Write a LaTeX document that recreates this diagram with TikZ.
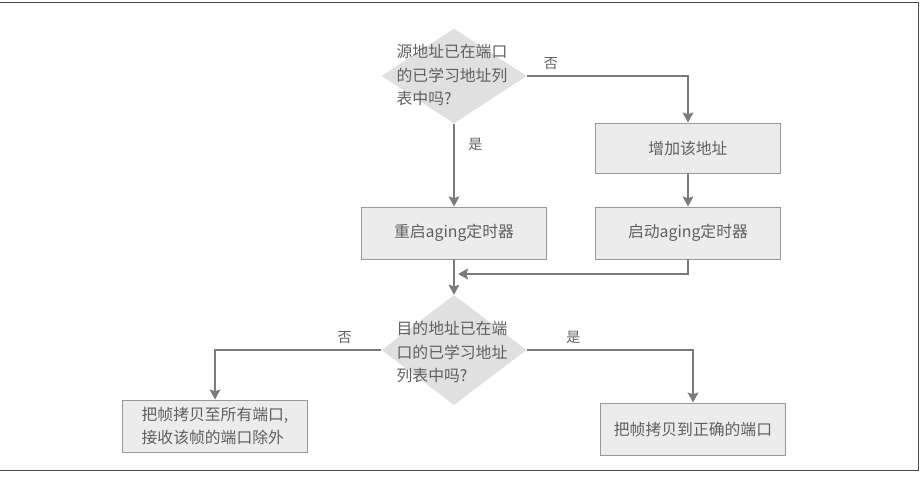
\documentclass[tikz,border=0pt]{standalone}
\usepackage{fontspec}
\setmainfont{Noto Sans CJK SC}
\usetikzlibrary{shapes.geometric, arrows.meta}

\definecolor{linegray}{HTML}{7A7A7A}
\definecolor{boxgray}{HTML}{ECECEC}
\definecolor{txtgray}{HTML}{606060}

\tikzset{
  stepbox/.style={draw=black!40, fill=boxgray, line width=0.8pt, minimum width=5.55cm, minimum height=1.56cm, inner sep=0pt, text=txtgray},
  decision/.style={diamond, fill=boxgray!95!black, draw=none, minimum width=4.35cm, minimum height=2.9cm, inner sep=0pt, aspect=1.5},
  qtext/.style={align=left, text=txtgray, inner sep=0pt},
  flow/.style={->, draw=linegray, line width=1.7pt},
  lbl/.style={text=txtgray, font=\fontsize{12}{14}\selectfont}
}

\begin{document}
\begin{tikzpicture}[x=0.03cm, y=-0.03cm, >={Stealth[length=3mm, width=3.2mm, inset=0.5mm]}, font=\fontsize{13.5}{20}\selectfont]
  \useasboundingbox (0,0) rectangle (923,482);
  % Khung ngoài
  \draw[black!70, line width=0.8pt] (0,2) -- (918,2) -- (918,470) -- (0,470);
  % Hai nút quyết định
  \node[decision, minimum height=2.85cm] (q1) at (454,76) {};
  \node[qtext] (q1t) at (452,75) {源地址已在端口\\的已学习地址列\\表中吗?};
  \node[decision, minimum height=3.3cm] (q2) at (454,350) {};
  \node[qtext] (q2t) at (452,352) {目的地址已在端\\口的已学习地址\\列表中吗?};
  % Các hộp xử lý
  \node[stepbox, minimum height=1.5cm] (add) at (688,148) {增加该地址};
  \node[stepbox] (restart) at (454,233) {重启aging定时器};
  \node[stepbox] (start) at (688,233) {启动aging定时器};
  \node[stepbox, align=left] (flood) at (215,426) {把帧拷贝至所有端口,\\接收该帧的端口除外};
  \node[stepbox] (fwd) at (693,429) {把帧拷贝到正确的端口};
  \coordinate (merge) at (458,274);
  % Các mũi tên
  \draw[flow] (q1.east) -| node[lbl, pos=0.075, above=1pt] (no1) {否} (add.north);
  \draw[flow] (add.south) -- (start.north);
  \draw[flow] (q1.south) -- node[lbl, pos=0.25, right=8pt] (yes1) {是} (restart.north);
  \draw[flow] (restart.south) -- (q2.north);
  \draw[flow] (start.south) |- (merge);
  \draw[flow] (q2.west) -| node[lbl, pos=0.11, above=1pt] (no2) {否} (flood.north);
  \draw[flow] (q2.east) -| node[lbl, pos=0.14, above=1pt] (yes2) {是} (fwd.north);
\end{tikzpicture}
\end{document}
